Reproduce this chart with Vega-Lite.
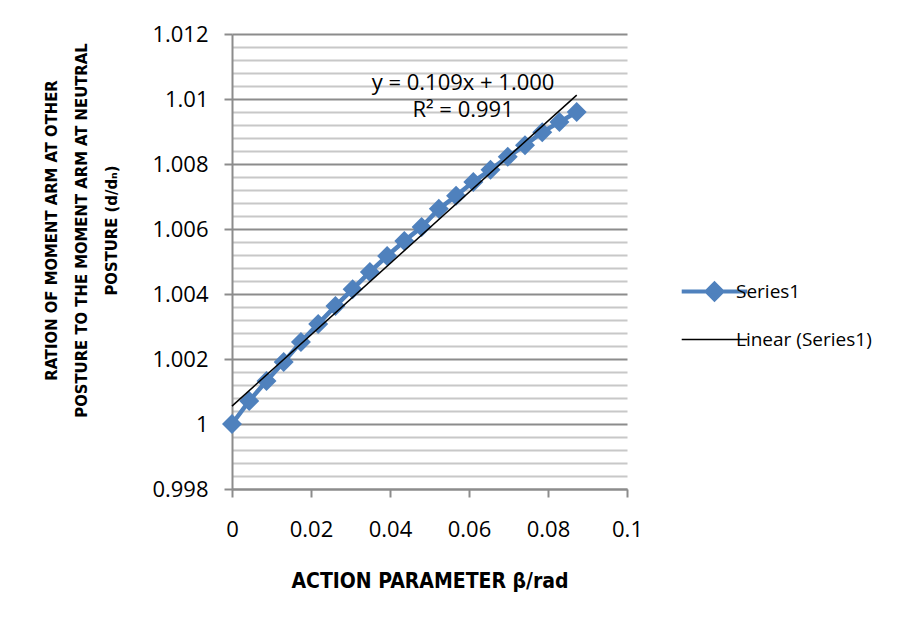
{
  "$schema": "https://vega.github.io/schema/vega-lite/v6.json",
  "width": 395,
  "height": 455,
  "autosize": {"type": "none"},
  "padding": {"left": 232, "top": 34, "right": 279, "bottom": 132},
  "background": "white",
  "config": {
    "view": {"stroke": null},
    "font": "Open Sans"
  },
  "datasets": {
    "series": [
      {"x": 0.0, "y": 1.0, "s": "Series1"},
      {"x": 0.00436, "y": 1.00071, "s": "Series1"},
      {"x": 0.00873, "y": 1.00132, "s": "Series1"},
      {"x": 0.01309, "y": 1.00191, "s": "Series1"},
      {"x": 0.01745, "y": 1.00252, "s": "Series1"},
      {"x": 0.02182, "y": 1.00308, "s": "Series1"},
      {"x": 0.02618, "y": 1.00363, "s": "Series1"},
      {"x": 0.03054, "y": 1.00415, "s": "Series1"},
      {"x": 0.03491, "y": 1.00468, "s": "Series1"},
      {"x": 0.03927, "y": 1.00517, "s": "Series1"},
      {"x": 0.04363, "y": 1.00563, "s": "Series1"},
      {"x": 0.048, "y": 1.00606, "s": "Series1"},
      {"x": 0.05236, "y": 1.00662, "s": "Series1"},
      {"x": 0.05672, "y": 1.00702, "s": "Series1"},
      {"x": 0.06109, "y": 1.00745, "s": "Series1"},
      {"x": 0.06545, "y": 1.00782, "s": "Series1"},
      {"x": 0.06981, "y": 1.00822, "s": "Series1"},
      {"x": 0.07418, "y": 1.00858, "s": "Series1"},
      {"x": 0.07854, "y": 1.00898, "s": "Series1"},
      {"x": 0.0829, "y": 1.00929, "s": "Series1"},
      {"x": 0.08727, "y": 1.0096, "s": "Series1"}
    ],
    "trend": [
      {"x": 0.0, "y": 1.00055, "s": "Linear (Series1)"},
      {"x": 0.08727, "y": 1.01012, "s": "Linear (Series1)"}
    ],
    "notes": [
      {"x": 0.0585, "y": 1.0105, "t": "y = 0.109x + 1.000"},
      {"x": 0.0585, "y": 1.00966, "t": "R² = 0.991"}
    ]
  },
  "encoding": {
    "x": {
      "field": "x",
      "type": "quantitative",
      "scale": {"domain": [0, 0.1], "nice": false, "zero": false},
      "axis": {
        "values": [0, 0.02, 0.04, 0.06, 0.08, 0.1],
        "labelExpr": "toString(round(datum.value*100)/100)",
        "labelFlush": false,
        "grid": false,
        "domainColor": "#8c8c8c",
        "domainWidth": 2,
        "tickColor": "#8c8c8c",
        "tickWidth": 2,
        "tickSize": 8,
        "labelFont": "Open Sans",
        "labelFontSize": 22,
        "labelColor": "#000000",
        "labelPadding": 22,
        "title": "ACTION PARAMETER β/rad",
        "titleFont": "DejaVu Sans Condensed",
        "titleFontSize": 21,
        "titleFontWeight": "bold",
        "titleColor": "#000000",
        "titlePadding": 30
      }
    },
    "y": {
      "field": "y",
      "type": "quantitative",
      "scale": {"domain": [0.998, 1.012], "nice": false, "zero": false},
      "axis": {
        "values": [0.998, 0.9984, 0.9988, 0.9992, 0.9996, 1.0, 1.0004, 1.0008, 1.0012, 1.0016, 1.002, 1.0024, 1.0028, 1.0032, 1.0036, 1.004, 1.0044, 1.0048, 1.0052, 1.0056, 1.006, 1.0064, 1.0068, 1.0072, 1.0076, 1.008, 1.0084, 1.0088, 1.0092, 1.0096, 1.01, 1.0104, 1.0108, 1.0112, 1.0116, 1.012],
        "labelExpr": "abs(datum.value*500 - round(datum.value*500)) < 0.01 ? toString(round(datum.value*1000)/1000) : ''",
        "labelOverlap": false,
        "labelFlush": false,
        "grid": true,
        "gridColor": {"condition": {"test": "abs(datum.value*500 - round(datum.value*500)) < 0.01", "value": "#8c8c8c"}, "value": "#c8c8c8"},
        "gridWidth": 2,
        "domainColor": "#8c8c8c",
        "domainWidth": 2,
        "tickColor": "#8c8c8c",
        "tickWidth": 2,
        "tickSize": 8,
        "tickOpacity": {"condition": {"test": "abs(datum.value*500 - round(datum.value*500)) < 0.01", "value": 1}, "value": 0},
        "labelFont": "Open Sans",
        "labelFontSize": 22,
        "labelColor": "#000000",
        "labelPadding": 16,
        "title": ["RATION OF MOMENT ARM AT OTHER", "POSTURE TO THE MOMENT ARM AT NEUTRAL", "POSTURE (d/dₙ)"],
        "titleFont": "DejaVu Sans Condensed",
        "titleFontSize": 16.5,
        "titleFontWeight": "bold",
        "titleColor": "#000000",
        "titleLineHeight": 30,
        "titleY": 196,
        "titlePadding": 32
      }
    }
  },
  "layer": [
    {
      "data": {"name": "series"},
      "mark": {"type": "line", "strokeWidth": 4.5, "color": "#4F81BD"},
      "encoding": {
        "color": {
          "field": "s",
          "type": "nominal",
          "scale": {"domain": ["Series1", "Linear (Series1)"], "range": ["#4F81BD", "#000000"]},
          "legend": {
            "orient": "none",
            "legendX": 473,
            "legendY": 248,
            "title": null,
            "labelFont": "Open Sans",
            "labelFontSize": 19,
            "labelColor": "#000000",
            "symbolSize": 4300,
            "rowPadding": 22,
            "labelOffset": 12,
            "encode": {
              "symbols": {
                "update": {
                  "shape": {"signal": "datum.value === 'Series1' ? 'M-1,0L1,0M0,-0.24L0.24,0L0,0.24L-0.24,0Z' : 'M-1,0L1,0'"},
                  "strokeWidth": {"signal": "datum.value === 'Series1' ? 4 : 1.5"},
                  "fill": {"signal": "datum.value === 'Series1' ? '#4F81BD' : 'transparent'"},
                  "fillOpacity": {"value": 1}
                }
              }
            }
          }
        }
      }
    },
    {
      "data": {"name": "series"},
      "mark": {"type": "point", "shape": "diamond", "filled": true, "size": 400, "color": "#4F81BD", "opacity": 1}
    },
    {
      "data": {"name": "trend"},
      "mark": {"type": "line", "strokeWidth": 1.5},
      "encoding": {
        "color": {"field": "s", "type": "nominal"}
      }
    },
    {
      "data": {"name": "notes"},
      "mark": {"type": "text", "font": "Open Sans", "fontSize": 22, "color": "#000000", "align": "center", "baseline": "middle"},
      "encoding": {"text": {"field": "t"}}
    }
  ]
}
